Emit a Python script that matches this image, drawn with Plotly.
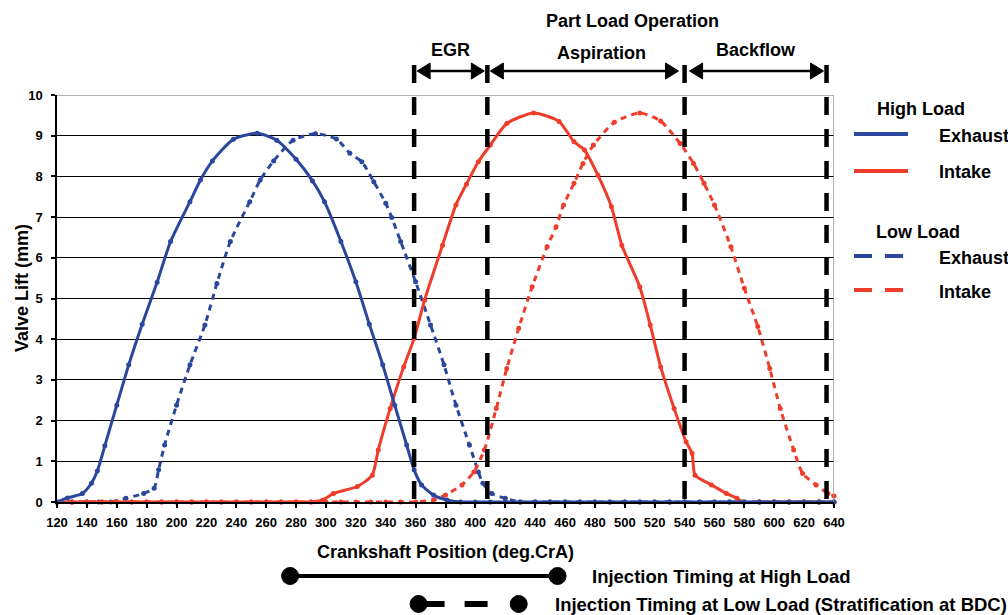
import plotly.graph_objects as go

# ---------------- data ----------------
he_x = [120, 127, 137, 143, 147, 152, 160, 168, 177, 187, 196, 209, 216, 224, 238, 254, 267, 280, 291, 299,
        310, 320, 329, 338, 346, 354, 359, 364, 372, 381, 390, 400, 410, 420, 430, 440, 450, 460, 470, 480,
        490, 500, 510, 520, 530, 540, 550, 560, 570, 580, 590, 600, 610, 620, 630, 640]
he_y = [0.0, 0.10, 0.21, 0.46, 0.76, 1.38, 2.38, 3.37, 4.37, 5.40, 6.40, 7.38, 7.91, 8.38, 8.91, 9.06, 8.89, 8.42, 7.89, 7.38,
        6.40, 5.41, 4.37, 3.37, 2.38, 1.40, 0.79, 0.42, 0.17, 0.05, 0.0, 0.0, 0.0, 0.0, 0.0, 0.0, 0.0, 0.0, 0.0, 0.0,
        0.0, 0.0, 0.0, 0.0, 0.0, 0.0, 0.0, 0.0, 0.0, 0.0, 0.0, 0.0, 0.0, 0.0, 0.0, 0.0]

le_x = [120, 130, 140, 148, 156, 166, 178, 185, 188, 192, 200, 209, 219, 227, 236, 249, 256, 265, 278, 293,
        307, 316, 324, 332, 340, 344, 350, 360, 370, 379, 387, 396, 402, 405, 411, 420, 430, 440, 450, 460,
        470, 480, 490, 500, 510, 520, 530, 540, 550, 560, 570, 580, 590, 600, 610, 620, 630, 640]
le_y = [0.0, 0.0, 0.0, 0.0, 0.0, 0.09, 0.21, 0.34, 0.79, 1.40, 2.38, 3.37, 4.35, 5.37, 6.40, 7.38, 7.91, 8.38, 8.89, 9.05,
        8.92, 8.57, 8.36, 7.87, 7.34, 6.99, 6.40, 5.41, 4.35, 3.37, 2.38, 1.40, 0.74, 0.46, 0.21, 0.09, 0.0, 0.0, 0.0, 0.0,
        0.0, 0.0, 0.0, 0.0, 0.0, 0.0, 0.0, 0.0, 0.0, 0.0, 0.0, 0.0, 0.0, 0.0, 0.0, 0.0, 0.0, 0.0]

hi_x = [120, 130, 140, 150, 160, 170, 180, 190, 200, 210, 220, 230, 240, 250, 260, 270, 280, 290, 298, 305,
        321, 331, 335, 343, 352, 359, 366, 378, 387, 394, 402, 410, 421, 439, 456, 466, 473, 482, 491, 498,
        510, 517, 524, 533, 541, 545, 547, 558, 568, 575, 579, 590, 600, 610, 620, 630, 640]
hi_y = [0.0, 0.0, 0.0, 0.0, 0.0, 0.0, 0.0, 0.0, 0.0, 0.0, 0.0, 0.0, 0.0, 0.0, 0.0, 0.0, 0.0, 0.0, 0.05, 0.21,
        0.38, 0.66, 1.28, 2.30, 3.32, 4.02, 4.96, 6.31, 7.30, 7.81, 8.36, 8.77, 9.30, 9.56, 9.35, 8.85, 8.65, 8.03, 7.26, 6.31,
        5.29, 4.35, 3.32, 2.30, 1.48, 1.20, 0.66, 0.42, 0.21, 0.09, 0.0, 0.0, 0.0, 0.0, 0.0, 0.0, 0.0]

li_x = [120, 130, 140, 150, 160, 170, 180, 190, 200, 210, 220, 230, 240, 250, 260, 270, 280, 290, 300, 310,
        320, 330, 340, 350, 360, 372, 380, 391, 399, 406, 414, 421, 429, 438, 448, 454, 459, 466, 472, 479,
        493, 510, 524, 537, 546, 553, 560, 571, 580, 589, 597, 604, 613, 619, 628, 636, 640]
li_y = [0.0, 0.0, 0.0, 0.0, 0.0, 0.0, 0.0, 0.0, 0.0, 0.0, 0.0, 0.0, 0.0, 0.0, 0.0, 0.0, 0.0, 0.0, 0.0, 0.0,
        0.0, 0.0, 0.0, 0.0, 0.0, 0.05, 0.17, 0.42, 0.74, 1.28, 2.30, 3.28, 4.27, 5.29, 6.27, 6.76, 7.30, 7.83, 8.32, 8.77,
        9.33, 9.56, 9.36, 8.81, 8.32, 7.83, 7.30, 6.27, 5.25, 4.31, 3.28, 2.30, 1.28, 0.70, 0.42, 0.21, 0.15]

x_ticks = list(range(120, 641, 20))
y_ticks = list(range(0, 11))

phase_bounds = [359, 408, 540, 635]          # vertical dashed markers (deg CrA)
phase_labels = ["EGR", "Aspiration", "Backflow"]
inj_high = [276, 455]                          # injection timing, high load
inj_low = [362, 429]                           # injection timing, low load

# ---------------- styling / geometry ----------------
BLUE = "#2b479d"
RED = "#ee3d2a"
FONT = "Liberation Sans, Arial, sans-serif"
W, H = 1008, 615
L_PX, R_PX, T_PX, B_PX = 57, 834, 95, 502
XMIN, XMAX = 120, 640
DPX = (XMAX - XMIN) / (R_PX - L_PX)   # degrees per pixel


def px_x(px):
    return (px - L_PX) / (R_PX - L_PX)


def px_y(py):
    return (B_PX - py) / (B_PX - T_PX)


fig = go.Figure()

def add_curve(x, y, color, dash):
    fig.add_trace(go.Scatter(
        x=x, y=y, mode="lines+markers",
        line=dict(color=color, width=3, dash=dash, shape="spline", smoothing=0.6),
        marker=dict(color=color, size=5, symbol="circle"),
        cliponaxis=False, showlegend=False, hoverinfo="skip"))

add_curve(le_x, le_y, BLUE, "6px,5px")
add_curve(hi_x, hi_y, RED, "solid")
add_curve(li_x, li_y, RED, "6px,5px")
add_curve(he_x, he_y, BLUE, "solid")

shapes = []
annotations = []

# outer gray frame (top and right)
shapes.append(dict(type="line", xref="x", yref="y", x0=XMIN, x1=XMAX, y0=10, y1=10,
                   line=dict(color="#9a9a9a", width=1.5), layer="above"))
shapes.append(dict(type="line", xref="x", yref="y", x0=XMAX, x1=XMAX, y0=0, y1=10,
                   line=dict(color="#9a9a9a", width=1.5), layer="above"))

# vertical dashed phase lines
for xb in phase_bounds:
    shapes.append(dict(type="line", xref="x", yref="paper", x0=xb, x1=xb,
                       y0=px_y(65), y1=px_y(B_PX),
                       line=dict(color="black", width=4.5, dash="18px,14px"), layer="above"))

# double-headed arrows
ARROW_Y = px_y(71)
HEAD_W = 13 * DPX
HEAD_H = 8 / (B_PX - T_PX)

def arrow(xl, xr, offl, offr):
    tl = xl + offl * DPX
    tr = xr - offr * DPX
    bl = tl + HEAD_W
    br = tr - HEAD_W
    shapes.append(dict(type="line", xref="x", yref="paper", x0=bl, x1=br, y0=ARROW_Y, y1=ARROW_Y,
                       line=dict(color="black", width=2.5), layer="above"))
    for tip, base in ((tl, bl), (tr, br)):
        path = f"M {tip},{ARROW_Y} L {base},{ARROW_Y + HEAD_H} L {base},{ARROW_Y - HEAD_H} Z"
        shapes.append(dict(type="path", xref="x", yref="paper", path=path,
                           fillcolor="black", line=dict(color="black", width=1), layer="above"))

arrow(phase_bounds[0], phase_bounds[1], 3, 3)
arrow(phase_bounds[1], phase_bounds[2], 3, 6)
arrow(phase_bounds[2], phase_bounds[3], 5, 3)

bold = dict(family=FONT, size=18, color="black", weight="bold")

def text(s, x, y, xanchor="center", xref="paper", size=18, angle=0):
    f = dict(bold)
    f["size"] = size
    annotations.append(dict(text=s, x=x, y=y, xref=xref, yref="paper", xanchor=xanchor,
                            yanchor="middle", showarrow=False, font=f, textangle=angle))

text("Part Load Operation", px_x(632), px_y(21))
text(phase_labels[0], (phase_bounds[0] + phase_bounds[1]) / 2, px_y(50), xref="x")
text(phase_labels[1], px_x(601), px_y(53))
text(phase_labels[2], (phase_bounds[2] + phase_bounds[3]) / 2, px_y(50), xref="x")

# axis titles
text("Crankshaft Position (deg.CrA)", px_x(446), px_y(552))
text("Valve Lift (mm)", px_x(22), px_y(288), angle=-90)

# legend block
text("High Load", px_x(875), px_y(109), xanchor="left")
text("Exhaust", px_x(937), px_y(136), xanchor="left")
text("Intake", px_x(937), px_y(172), xanchor="left")
text("Low Load", px_x(874), px_y(232), xanchor="left")
text("Exhaust", px_x(937), px_y(258), xanchor="left")
text("Intake", px_x(937), px_y(292), xanchor="left")

legend_rows = [(134, BLUE, "solid"), (171, RED, "solid"), (256, BLUE, "18px,13px"), (290, RED, "18px,13px")]
for py, col, dsh in legend_rows:
    shapes.append(dict(type="line", xref="paper", yref="paper", x0=px_x(854), x1=px_x(908 if dsh == "solid" else 904),
                       y0=px_y(py), y1=px_y(py), line=dict(color=col, width=4, dash=dsh)))

# injection timing bars
Y_INJ_H = px_y(576)
Y_INJ_L = px_y(604)
shapes.append(dict(type="line", xref="x", yref="paper", x0=inj_high[0], x1=inj_high[1], y0=Y_INJ_H, y1=Y_INJ_H,
                   line=dict(color="black", width=4)))
shapes.append(dict(type="line", xref="x", yref="paper", x0=inj_low[0], x1=inj_low[1], y0=Y_INJ_L, y1=Y_INJ_L,
                   line=dict(color="black", width=6, dash="26px,20px,23px,60px")))
for xv, yv in ((inj_high[0], Y_INJ_H), (inj_high[1], Y_INJ_H), (inj_low[0], Y_INJ_L), (inj_low[1], Y_INJ_L)):
    shapes.append(dict(type="circle", xref="x", yref="paper", xsizemode="pixel", ysizemode="pixel",
                       xanchor=xv, yanchor=yv, x0=-8.5, x1=8.5, y0=-8.5, y1=8.5,
                       fillcolor="black", line=dict(color="black", width=1)))
text("Injection Timing at High Load", px_x(590), Y_INJ_H, xanchor="left", size=18.5)
text("Injection Timing at Low Load (Stratification at BDC)", px_x(553), Y_INJ_L, xanchor="left", size=18.5)

fig.update_layout(
    width=W, height=H,
    margin=dict(l=L_PX, r=W - R_PX, t=T_PX, b=H - B_PX, pad=0),
    paper_bgcolor="white", plot_bgcolor="white",
    font=dict(family=FONT, color="black"),
    shapes=shapes, annotations=annotations, showlegend=False,
    xaxis=dict(range=[XMIN, XMAX], tickvals=x_ticks, ticks="outside", ticklen=4, tickwidth=1.5,
               tickcolor="black", showgrid=False, zeroline=False, showline=True, linecolor="black",
               linewidth=1.5, tickfont=dict(family=FONT, size=13, color="black", weight="bold"),
               ticklabelstandoff=4),
    yaxis=dict(range=[0, 10], tickvals=y_ticks, ticks="outside", ticklen=4, tickwidth=1.5,
               tickcolor="black", showgrid=True, gridcolor="black", gridwidth=1, zeroline=False,
               showline=True, linecolor="black", linewidth=1.5,
               tickfont=dict(family=FONT, size=13, color="black", weight="bold"), ticklabelstandoff=6),
)

fig.write_html("out.html")
